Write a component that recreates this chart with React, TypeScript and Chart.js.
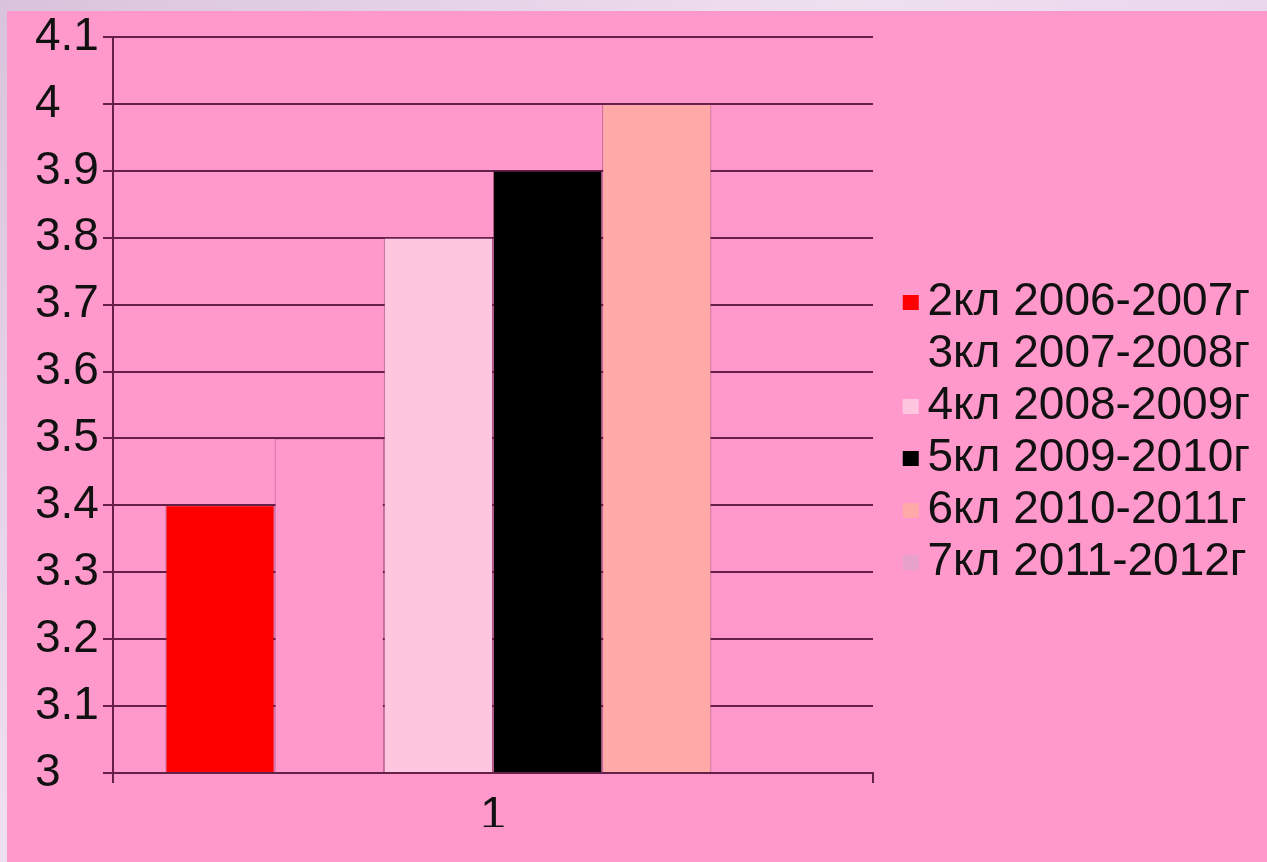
import React, { useEffect, useRef } from 'react';
import { Chart, registerables } from 'chart.js';

Chart.register(...registerables);

const FONT_FAMILY = '"Liberation Sans", Arial, Helvetica, sans-serif';
const FONT_SIZE = 46;

const categories = ['1'];
const seriesLabels = [
  '2кл 2006-2007г',
  '3кл 2007-2008г',
  '4кл 2008-2009г',
  '5кл 2009-2010г',
  '6кл 2010-2011г',
  '7кл 2011-2012г',
];
const seriesValues: (number | null)[] = [3.4, 3.5, 3.8, 3.9, 4.0, null];
const seriesColors = ['#FF0000', '#FF99CC', '#FFC6E0', '#000000', '#FFA9A9', '#E6A2CA'];
const yTickLabels = ['3', '3.1', '3.2', '3.3', '3.4', '3.5', '3.6', '3.7', '3.8', '3.9', '4', '4.1'];
const Y_MIN = 3;
const Y_MAX = 4.1;
const Y_STEP = 0.1;

const CANVAS_W = 1260;
const CANVAS_H = 851;
const PAD = { left: 28, right: 7, top: 26, bottom: 35 };
const Y_AXIS_W = 78;
const X_AXIS_H = 54;
const PLOT_RIGHT = 866;
const LEGEND_PAD = 6;
const BOX_W = 16;
const BOX_H = 15;
const BOX_GAP = 9;
const GRID = '#652049';
const TEXT = '#111111';

function makeSwatch(color: string, w: number): HTMLCanvasElement {
  // offset of the square's left edge from the legend point centre
  const off = w / 2 + FONT_SIZE / 2 - BOX_GAP - BOX_W;
  const hw = Math.ceil(Math.max(Math.abs(off), Math.abs(off + BOX_W))) + 1;
  const c = document.createElement('canvas');
  c.width = hw * 2;
  c.height = BOX_H;
  const g = c.getContext('2d')!;
  g.fillStyle = color;
  g.fillRect(Math.round(hw + off), 0, BOX_W, BOX_H);
  return c;
}

export default function App() {
  const ref = useRef<HTMLCanvasElement | null>(null);

  useEffect(() => {
    const canvas = ref.current;
    if (!canvas) return;
    const m = document.createElement('canvas').getContext('2d')!;
    m.font = `${FONT_SIZE}px ${FONT_FAMILY}`;
    const textW = Math.max(...seriesLabels.map((s) => m.measureText(s).width));
    const itemW = CANVAS_W - PAD.right - 10 - (PLOT_RIGHT + LEGEND_PAD);
    let boxW = itemW - FONT_SIZE / 2 - textW;
    if (boxW < 2) boxW = 2;
    const swatches = seriesColors.map((c) => makeSwatch(c, boxW));

    const chart = new Chart(canvas, {
      type: 'bar',
      data: {
        labels: categories,
        datasets: seriesLabels.map((label, i) => ({
          label,
          data: [seriesValues[i]],
          backgroundColor: seriesColors[i],
          borderColor: 'rgba(110,35,80,0.55)',
          borderWidth: 1,
          categoryPercentage: 0.862,
          barPercentage: 1,
        })),
      },
      options: {
        responsive: false,
        devicePixelRatio: 1,
        animation: false,
        layout: { padding: PAD },
        scales: {
          x: {
            grid: {
              display: true,
              drawOnChartArea: false,
              drawTicks: true,
              tickLength: 10,
              color: GRID,
              lineWidth: 2,
            },
            border: { display: true, color: GRID, width: 2, z: 1 },
            ticks: {
              color: TEXT,
              font: { family: FONT_FAMILY, size: FONT_SIZE },
              padding: 6,
            },
            afterFit: (s: any) => {
              s.height = X_AXIS_H;
              s.paddingLeft = 0;
              s.paddingRight = 0;
            },
          },
          y: {
            min: Y_MIN,
            max: Y_MAX,
            grid: {
              color: GRID,
              lineWidth: 2,
              drawTicks: true,
              tickLength: 10,
            },
            border: { display: true, color: GRID, width: 2 },
            ticks: {
              stepSize: Y_STEP,
              color: TEXT,
              crossAlign: 'far',
              font: { family: FONT_FAMILY, size: FONT_SIZE },
              callback: (_v: any, idx: number) => yTickLabels[idx],
            },
            afterFit: (s: any) => {
              s.width = Y_AXIS_W;
              s.paddingTop = 0;
              s.paddingBottom = 0;
            },
          },
        },
        plugins: {
          tooltip: { enabled: false },
          legend: {
            position: 'right',
            align: 'center',
            maxWidth: 500,
            labels: {
              color: TEXT,
              font: { family: FONT_FAMILY, size: FONT_SIZE },
              padding: LEGEND_PAD,
              usePointStyle: true,
              pointStyleWidth: boxW,
              boxHeight: BOX_H,
              generateLabels: (ch: any) => {
                const items = Chart.defaults.plugins.legend.labels.generateLabels(ch);
                return items.map((it: any, i: number) => ({ ...it, pointStyle: swatches[i] }));
              },
            },
          },
        },
      },
    } as any);
    return () => chart.destroy();
  }, []);

  return (
    <div
      style={{
        position: 'absolute',
        left: 0,
        top: 0,
        width: 1267,
        height: 862,
        overflow: 'hidden',
        background: 'linear-gradient(135deg, #d9c3dc 0%, #efe0f0 40%, #e6d2ea 70%, #f3e6f4 100%)',
      }}
    >
      <canvas
        ref={ref}
        width={CANVAS_W}
        height={CANVAS_H}
        style={{ position: 'absolute', left: 7, top: 11, background: '#FF99CC' }}
      />
    </div>
  );
}
